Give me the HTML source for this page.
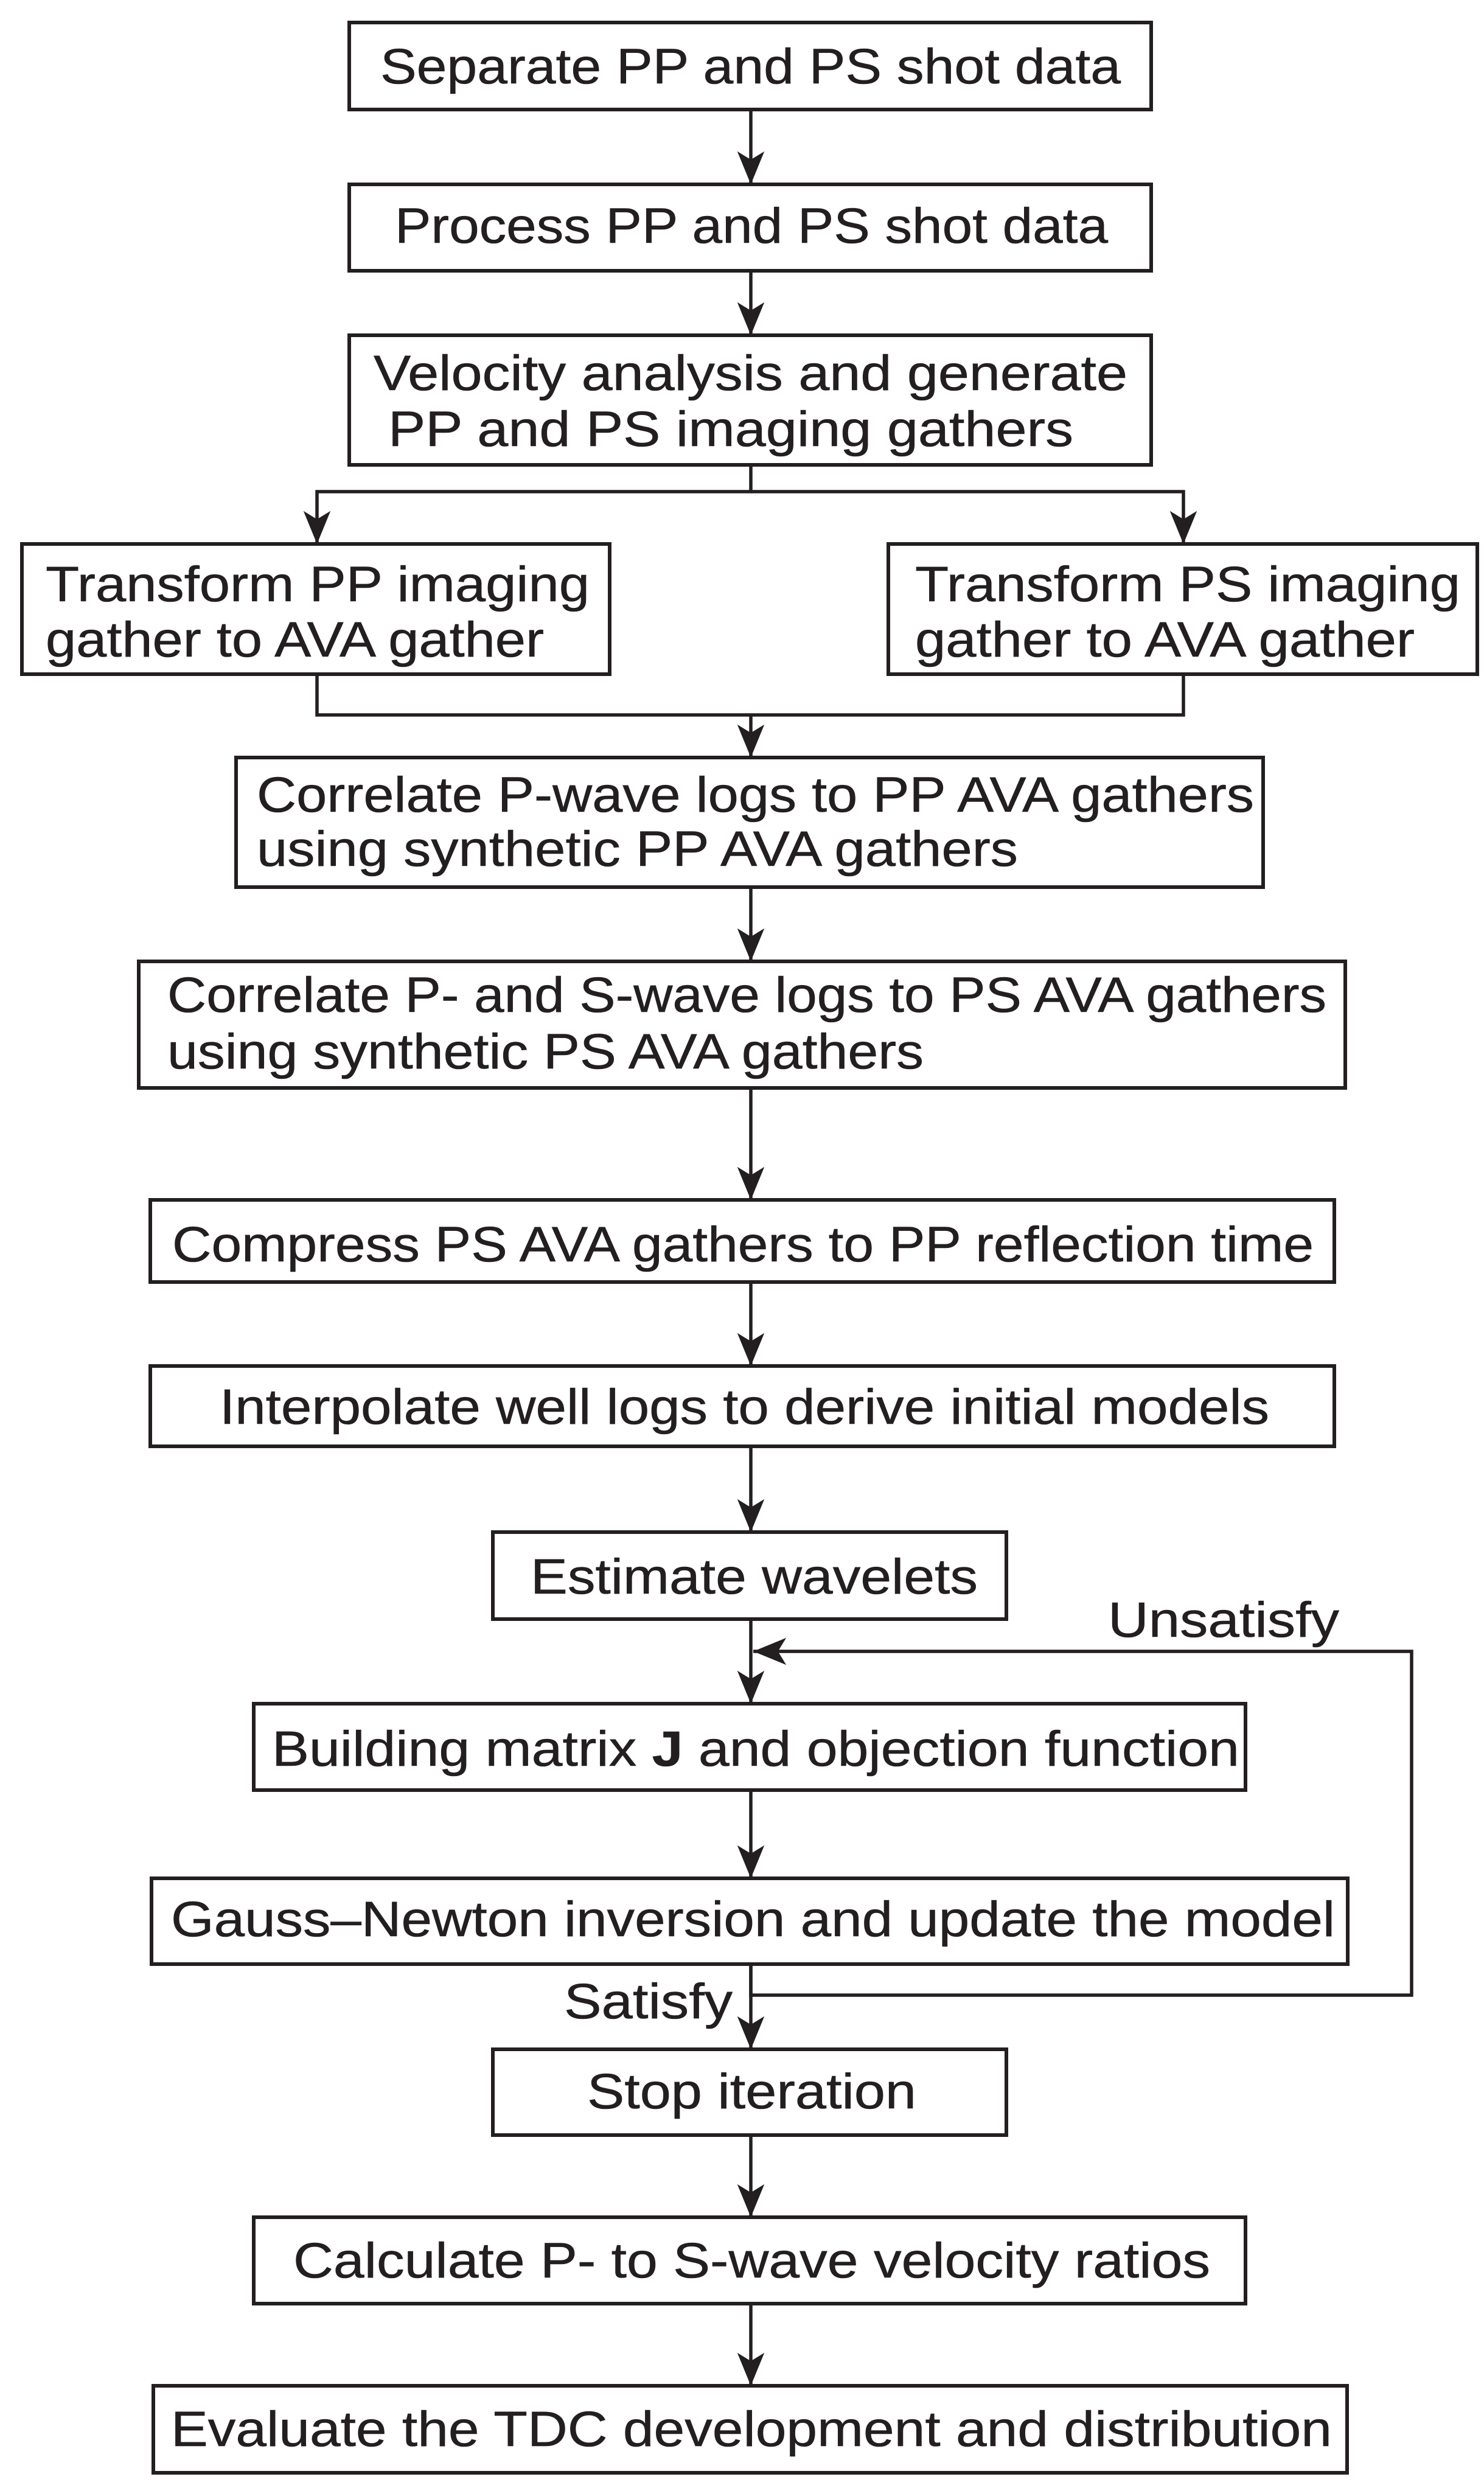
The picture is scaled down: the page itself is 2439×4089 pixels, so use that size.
<!DOCTYPE html>
<html><head><meta charset="utf-8"><style>html,body{margin:0;padding:0;background:#fff}svg{display:block}</style></head>
<body>
<svg width="2439" height="4089" viewBox="0 0 2439 4089" xmlns="http://www.w3.org/2000/svg">
<defs>
<marker id="a" markerUnits="userSpaceOnUse" markerWidth="60" markerHeight="60" refX="0" refY="0" orient="auto" viewBox="-60 -30 62 60" overflow="visible">
<path d="M0,0 L-56,-23 L-42,0 L-56,23 Z" fill="#231f20"/>
</marker>
</defs>
<g fill="none" stroke="#231f20" stroke-width="6">
<rect x="574" y="37" width="1318" height="143"/>
<rect x="574" y="303" width="1318" height="142"/>
<rect x="574" y="551" width="1318" height="213"/>
<rect x="36" y="894" width="966" height="214"/>
<rect x="1460" y="894" width="968" height="214"/>
<rect x="388" y="1245" width="1688" height="213"/>
<rect x="228" y="1580" width="1983" height="208"/>
<rect x="247" y="1972" width="1946" height="135"/>
<rect x="247" y="2245" width="1946" height="132"/>
<rect x="810" y="2518" width="844" height="143"/>
<rect x="417" y="2800" width="1630" height="142"/>
<rect x="249" y="3087" width="1966" height="141"/>
<rect x="810" y="3368" width="844" height="141"/>
<rect x="417" y="3644" width="1630" height="142"/>
<rect x="252" y="3921" width="1962" height="143"/>
</g>
<g fill="none" stroke="#231f20" stroke-width="5.5" marker-end="url(#a)">
<line x1="1234" y1="180" x2="1234" y2="303"/>
<line x1="1234" y1="445" x2="1234" y2="551"/>
<polyline points="1234,764 1234,808 521,808 521,894"/>
<polyline points="1234,808 1945,808 1945,894"/>
<polyline points="521,1108 521,1175 1945,1175 1945,1108" marker-end="none"/>
<line x1="1234" y1="1175" x2="1234" y2="1245"/>
<line x1="1234" y1="1458" x2="1234" y2="1580"/>
<line x1="1234" y1="1788" x2="1234" y2="1972"/>
<line x1="1234" y1="2107" x2="1234" y2="2245"/>
<line x1="1234" y1="2377" x2="1234" y2="2518"/>
<line x1="1234" y1="2661" x2="1234" y2="2800"/>
<polyline points="1234,3228 1234,3279 2320,3279 2320,2714 1238,2714"/>
<line x1="1234" y1="2942" x2="1234" y2="3087"/>
<line x1="1234" y1="3228" x2="1234" y2="3368"/>
<line x1="1234" y1="3509" x2="1234" y2="3644"/>
<line x1="1234" y1="3786" x2="1234" y2="3921"/>
</g>
<g font-family="Liberation Sans, Arial, sans-serif" font-size="82" fill="#231f20" stroke="#231f20" stroke-width="0.6">
<text x="625" y="137" textLength="1217" lengthAdjust="spacingAndGlyphs">Separate PP and PS shot data</text>
<text x="649" y="399" textLength="1172" lengthAdjust="spacingAndGlyphs">Process PP and PS shot data</text>
<text x="614" y="641" textLength="1239" lengthAdjust="spacingAndGlyphs">Velocity analysis and generate</text>
<text x="638" y="733" textLength="1126" lengthAdjust="spacingAndGlyphs">PP and PS imaging  gathers</text>
<text x="75" y="988" textLength="894" lengthAdjust="spacingAndGlyphs">Transform PP imaging</text>
<text x="75" y="1079" textLength="819" lengthAdjust="spacingAndGlyphs">gather to AVA gather</text>
<text x="1504" y="988" textLength="896" lengthAdjust="spacingAndGlyphs">Transform PS imaging</text>
<text x="1504" y="1079" textLength="821" lengthAdjust="spacingAndGlyphs">gather to AVA gather</text>
<text x="422" y="1334" textLength="1639" lengthAdjust="spacingAndGlyphs">Correlate P-wave logs to PP AVA gathers</text>
<text x="422" y="1423" textLength="1251" lengthAdjust="spacingAndGlyphs">using synthetic PP AVA gathers</text>
<text x="275" y="1663" textLength="1905" lengthAdjust="spacingAndGlyphs">Correlate P- and S-wave logs to PS AVA gathers</text>
<text x="275" y="1756" textLength="1243" lengthAdjust="spacingAndGlyphs">using synthetic PS AVA gathers</text>
<text x="283" y="2073" textLength="1876" lengthAdjust="spacingAndGlyphs">Compress PS AVA gathers to PP reflection time</text>
<text x="361" y="2340" textLength="1725" lengthAdjust="spacingAndGlyphs">Interpolate well logs to derive initial models</text>
<text x="872" y="2619" textLength="735" lengthAdjust="spacingAndGlyphs">Estimate wavelets</text>
<text x="447" y="2902" textLength="1590" lengthAdjust="spacingAndGlyphs">Building matrix <tspan font-weight="bold">J</tspan> and objection function</text>
<text x="281" y="3182" textLength="1913" lengthAdjust="spacingAndGlyphs">Gauss–Newton inversion and update the model</text>
<text x="965" y="3465" textLength="541" lengthAdjust="spacingAndGlyphs">Stop iteration</text>
<text x="482" y="3743" textLength="1507" lengthAdjust="spacingAndGlyphs">Calculate P- to S-wave velocity ratios</text>
<text x="281" y="4020" textLength="1908" lengthAdjust="spacingAndGlyphs">Evaluate the TDC development and distribution</text>
<text x="1821" y="2690" textLength="380" lengthAdjust="spacingAndGlyphs">Unsatisfy</text>
<text x="927" y="3317" textLength="277" lengthAdjust="spacingAndGlyphs">Satisfy</text>
</g>
</svg>
</body></html>
